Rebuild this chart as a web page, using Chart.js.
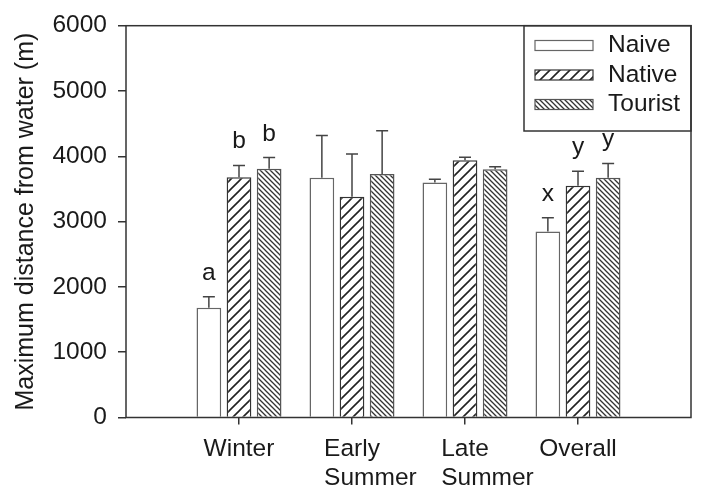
<!DOCTYPE html>
<html>
<head>
<meta charset="utf-8">
<script src="https://cdn.jsdelivr.net/npm/chart.js@4/dist/chart.umd.min.js"></script>
<style>
  html, body { margin: 0; padding: 0; background: #fff; }
  #chart { display: block; }
</style>
</head>
<body>
<canvas id="chart" width="701" height="493"></canvas>
<script>
const categories = [["Winter"], ["Early", "Summer"], ["Late", "Summer"], ["Overall"]];
const seriesNames = ["Naive", "Native", "Tourist"];

const naive = [1680, 3670, 3600, 2850];
const naiveErr = [170, 650, 50, 210];
const native = [3680, 3380, 3940, 3550];
const nativeErr = [180, 655, 45, 220];
const tourist = [3810, 3730, 3800, 3670];
const touristErr = [170, 660, 40, 220];

const naiveLetters = ["a", "", "", "x"];
const nativeLetters = ["b", "", "", "y"];
const touristLetters = ["b", "", "", "y"];

const yMin = 0;
const yMax = 6000;
const yStep = 1000;

const FONT = "'Liberation Sans', Arial, sans-serif";
const FS = 24.5;
const INK = "#1a1a1a";
const LINE = "#333";

Chart.defaults.font.family = FONT;
Chart.defaults.color = INK;

function hatch(size, dir, color, width) {
  const c = document.createElement("canvas");
  c.width = size;
  c.height = size;
  const g = c.getContext("2d");
  g.fillStyle = "#fff";
  g.fillRect(0, 0, size, size);
  g.strokeStyle = color;
  g.lineWidth = width;
  g.beginPath();
  if (dir === "/") {
    g.moveTo(-1, size + 1); g.lineTo(size + 1, -1);
    g.moveTo(-2, 2); g.lineTo(2, -2);
    g.moveTo(size - 2, size + 2); g.lineTo(size + 2, size - 2);
  } else {
    g.moveTo(-1, -1); g.lineTo(size + 1, size + 1);
    g.moveTo(-2, size - 2); g.lineTo(2, size + 2);
    g.moveTo(size - 2, -2); g.lineTo(size + 2, 2);
  }
  g.stroke();
  return g.createPattern(c, "repeat");
}

const ctx = document.getElementById("chart").getContext("2d");
const nativeFill = hatch(10, "/", "#222", 1.6);
const touristFill = hatch(5, "\\", "#333", 1.3);

// pad the category axis with empty slots so the groups sit at 1..4 of 0..5
const pad = (arr) => [null, ...arr, null];
const labels = ["", ...categories, ""];

const datasets = [
  { label: seriesNames[0], data: pad(naive), err: naiveErr, letters: naiveLetters,
    backgroundColor: "#fff", borderColor: "#666" },
  { label: seriesNames[1], data: pad(native), err: nativeErr, letters: nativeLetters,
    backgroundColor: nativeFill, borderColor: "#333" },
  { label: seriesNames[2], data: pad(tourist), err: touristErr, letters: touristLetters,
    backgroundColor: touristFill, borderColor: "#555" },
].map((d) => Object.assign(d, {
  borderWidth: 1.5,
  categoryPercentage: 0.8,
  barPercentage: 0.82,
}));

const X_TICK = 7;
const X_PAD = 10;
const LINE_H = FS * 1.2;

const extras = {
  id: "extras",
  afterDatasetsDraw(chart) {
    const c = chart.ctx;
    const y = chart.scales.y;
    c.save();
    c.strokeStyle = "#444";
    c.lineWidth = 1.5;
    c.fillStyle = INK;
    c.font = FS + "px " + FONT;
    c.textAlign = "center";
    c.textBaseline = "alphabetic";
    chart.data.datasets.forEach((ds, di) => {
      const meta = chart.getDatasetMeta(di);
      ds.err.forEach((e, i) => {
        const bar = meta.data[i + 1];
        const v = ds.data[i + 1];
        const top = y.getPixelForValue(v + e);
        c.beginPath();
        c.moveTo(bar.x, bar.y);
        c.lineTo(bar.x, top);
        c.moveTo(bar.x - 6, top);
        c.lineTo(bar.x + 6, top);
        c.stroke();
        if (ds.letters[i]) {
          c.fillText(ds.letters[i], bar.x, top - 17);
        }
      });
    });
    c.restore();
  },
  afterDraw(chart) {
    const c = chart.ctx;
    const a = chart.chartArea;
    const x = chart.scales.x;
    c.save();
    // frame
    c.strokeStyle = LINE;
    c.lineWidth = 1.5;
    c.strokeRect(a.left, a.top, a.right - a.left, a.bottom - a.top);

    // second line of the category labels, left aligned under the first line
    c.fillStyle = INK;
    c.font = FS + "px " + FONT;
    c.textAlign = "left";
    c.textBaseline = "middle";
    categories.forEach((lines, i) => {
      if (lines.length < 2) return;
      const px = x.getPixelForValue(i + 1);
      const left = px - c.measureText(lines[0]).width / 2;
      c.fillText(lines[1], left, x.top + X_TICK + X_PAD + LINE_H * 1.5);
    });

    // legend box in the top right corner
    const boxL = 524;
    const boxB = 131;
    c.strokeRect(boxL, a.top, a.right - boxL, boxB - a.top);
    const fills = chart.data.datasets.map((d) => [d.backgroundColor, d.borderColor]);
    seriesNames.forEach((name, i) => {
      const cy = 45.5 + i * 29.5;
      c.fillStyle = fills[i][0];
      c.fillRect(535, cy - 5, 58, 10);
      c.strokeStyle = fills[i][1];
      c.lineWidth = 1.2;
      c.strokeRect(535, cy - 5, 58, 10);
      c.fillStyle = INK;
      c.fillText(name, 608, cy);
    });
    c.restore();
  },
};

new Chart(ctx, {
  type: "bar",
  data: { labels: labels, datasets: datasets },
  options: {
    responsive: false,
    animation: false,
    devicePixelRatio: 1,
    layout: { padding: { top: 20, right: 6, left: 0, bottom: 0 } },
    plugins: {
      legend: { display: false },
      tooltip: { enabled: false },
    },
    scales: {
      x: {
        type: "category",
        offset: false,
        grid: {
          offset: false,
          drawOnChartArea: false,
          tickLength: X_TICK,
          lineWidth: 1.5,
          tickColor: (t) => (t.index === 0 || t.index === labels.length - 1 ? "rgba(0,0,0,0)" : LINE),
        },
        border: { display: false },
        ticks: {
          autoSkip: false,
          maxRotation: 0,
          padding: X_PAD,
          color: INK,
          font: { size: FS },
          callback: function (value) {
            const l = this.getLabelForValue(value);
            return Array.isArray(l) ? l[0] : l;
          },
        },
        afterFit: (s) => { s.height = 75.5; },
      },
      y: {
        min: yMin,
        max: yMax,
        grid: {
          drawOnChartArea: false,
          tickLength: 8,
          lineWidth: 1.5,
          tickColor: LINE,
        },
        border: { display: false },
        ticks: {
          stepSize: yStep,
          padding: 11,
          color: INK,
          font: { size: FS },
          callback: (v) => String(v),
        },
        title: {
          display: true,
          text: "Maximum distance from water (m)",
          color: INK,
          font: { size: 25 },
          padding: { top: 11, bottom: 0 },
        },
        afterFit: (s) => { s.width = 126; },
      },
    },
  },
  plugins: [extras],
});
</script>
</body>
</html>
